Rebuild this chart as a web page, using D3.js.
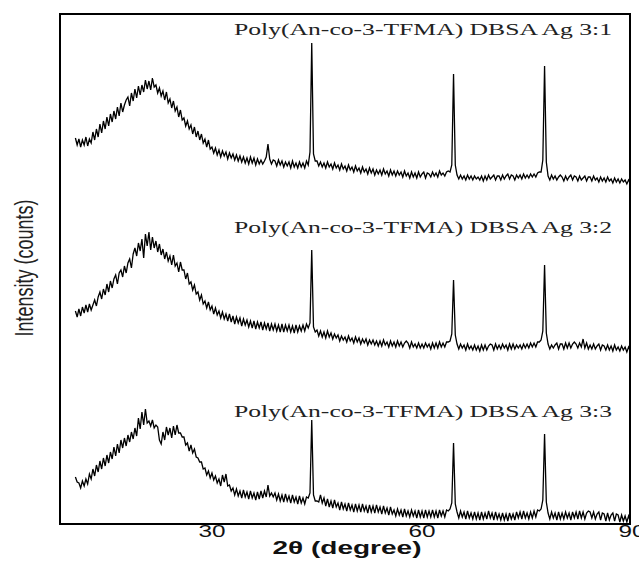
<!DOCTYPE html>
<html>
<head>
<meta charset="utf-8">
<script src="https://cdn.jsdelivr.net/npm/d3@7"></script>
<style>
  body { margin: 0; background: #fff; }
  svg { display: block; }
</style>
</head>
<body>
<div id="graph"></div>
<script>
// sampling grid of the diffractograms (2theta, degrees)
const startAngle = 10.5;
const stepAngle = 0.25;

// intensities, one row per degree (x.00, x.25, x.50, x.75)
const ag31 = [
  46, 39,
  45, 37, 44, 39,  47, 38, 45, 41,  52, 44, 55, 47,  60, 51, 63, 55,
  67, 58, 70, 62,  73, 65, 77, 68,  81, 72, 79, 84,  87, 78, 91, 83,
  95, 86, 98, 89,  99, 92, 104, 95, 103, 94, 106, 97, 99, 91, 96, 88,
  93, 84, 92, 81,  85, 76, 83, 73,  77, 67, 74, 64,  66, 58, 63, 55,
  59, 50, 57, 47,  53, 44, 50, 41,  45, 37, 44, 35,  37, 31, 36, 29,
  34, 27, 33, 28,  32, 25, 31, 26,  30, 24, 29, 23,  28, 22, 27, 21,
  26, 20, 27, 21,  26, 19, 25, 20,  24, 20, 23, 27,  40, 25, 20, 24,
  23, 18, 24, 19,  23, 17, 22, 18,  22, 16, 23, 17,  21, 16, 22, 17,
  21, 16, 23, 19,  32, 141, 30, 23, 23, 18, 22, 17,  21, 16, 22, 17,
  20, 15, 21, 16,  19, 14, 20, 15,  18, 13, 19, 14,  17, 12, 18, 13,
  16, 11, 17, 12,  15, 10, 16, 11,  15, 9, 14, 10,   14, 9, 15, 10,
  13, 8, 14, 9,    13, 8, 13, 9,    12, 7, 13, 8,    11, 6, 12, 7,
  11, 6, 12, 7,    10, 12, 6, 11,   10, 7, 12, 8,    11, 7, 13, 9,
  11, 8, 12, 13,   12, 19, 110, 19, 9, 5, 9, 5,      8, 4, 9, 5,
  8, 4, 8, 5,      7, 4, 8, 3,      8, 4, 9, 5,      7, 9, 4, 8,
  8, 4, 9, 5,      8, 10, 5, 9,     8, 4, 9, 6,      9, 5, 10, 6,
  9, 6, 10, 7,     10, 7, 11, 12,   12, 24, 118, 22, 8, 4, 9, 5,
  8, 4, 7, 9,      7, 3, 8, 4,      7, 9, 4, 8,      7, 3, 8, 4,
  6, 8, 3, 7,      7, 3, 8, 4,      6, 2, 7, 3,      6, 2, 7, 3,
  5, 1, 6, 2,      5, 1, 5, 2,      4, 0, 4, 1
];

const ag32 = [
  43, 37,
  45, 38, 47, 41,  49, 42, 50, 44,  49, 54, 48, 57,  62, 55, 65, 59,
  70, 62, 73, 66,  75, 79, 70, 81,  84, 77, 88, 81,  91, 95, 86, 100,
  106, 98, 111, 103, 115, 96, 120, 108, 122, 104, 117, 106, 113, 102, 110, 99,
  105, 95, 102, 93, 98, 89, 99, 88, 91, 82, 92, 84,  84, 75, 81, 70,
  72, 64, 69, 60,  62, 54, 59, 50,  53, 46, 52, 44,  48, 40, 46, 39,
  43, 36, 42, 35,  40, 33, 40, 32,  38, 30, 37, 31,  36, 28, 35, 29,
  34, 27, 33, 26,  33, 25, 32, 26,  32, 24, 31, 25,  31, 23, 30, 24,
  30, 23, 29, 22,  30, 22, 29, 23,  29, 22, 28, 21,  29, 22, 28, 23,
  29, 23, 30, 26,  31, 104, 27, 22, 24, 18, 23, 17,  22, 16, 23, 17,
  21, 15, 20, 16,  19, 13, 18, 14,  17, 12, 18, 13,  16, 11, 17, 12,
  16, 10, 15, 11,  15, 9, 14, 10,   14, 9, 13, 8,    13, 8, 14, 9,
  12, 7, 13, 8,    12, 7, 13, 8,    12, 7, 11, 13,   11, 6, 12, 7,
  10, 6, 11, 6,    10, 6, 11, 7,    10, 5, 11, 6,    11, 6, 12, 7,
  11, 7, 12, 12,   13, 20, 74, 19,  10, 5, 10, 6,    9, 4, 10, 5,
  8, 4, 9, 4,      8, 3, 9, 4,      9, 4, 8, 10,     9, 4, 10, 5,
  9, 5, 10, 6,     9, 4, 10, 5,     10, 5, 9, 6,     9, 5, 10, 6,
  10, 6, 11, 7,    11, 7, 12, 12,   14, 23, 89, 21,  10, 5, 9, 6,
  9, 11, 5, 10,    10, 5, 11, 6,    11, 6, 10, 12,   10, 6, 11, 7,
  15, 6, 11, 5,    9, 5, 10, 5,     8, 10, 4, 9,     8, 4, 9, 4,
  8, 3, 9, 4,      7, 3, 8, 4,      7, 2, 7, 3
];

const ag33 = [
  47, 42,
  41, 36, 43, 38,  45, 40, 50, 45,  55, 48, 59, 52,  63, 55, 66, 58,
  69, 61, 72, 65,  77, 68, 80, 71,  84, 76, 86, 78,  89, 82, 92, 85,
  96, 88, 106, 95, 112, 99, 115, 101, 103, 98, 104, 96, 99, 97, 84, 80,
  92, 84, 97, 89,  96, 86, 98, 89,  99, 91, 91, 87,  87, 79, 81, 73,
  79, 71, 75, 67,  66, 62, 62, 55,  56, 49, 53, 46,  51, 44, 48, 41,
  45, 38, 49, 42,  50, 38, 39, 33,  36, 29, 35, 28,  33, 26, 34, 27,
  32, 25, 33, 26,  31, 24, 32, 25,  33, 26, 33, 27,  39, 28, 31, 27,
  31, 24, 30, 23,  29, 22, 30, 23,  28, 21, 29, 22,  27, 20, 28, 21,
  26, 20, 27, 26,  31, 104, 29, 23, 23, 22, 29, 21,  26, 18, 25, 17,
  23, 16, 24, 17,  21, 14, 22, 15,  20, 13, 21, 14,  19, 12, 20, 13,
  19, 12, 20, 13,  18, 11, 19, 12,  18, 11, 19, 12,  17, 10, 18, 11,
  16, 9, 17, 10,   14, 8, 15, 9,    14, 7, 15, 8,    13, 7, 14, 8,
  13, 6, 14, 7,    13, 6, 14, 7,    13, 7, 14, 7,    13, 6, 14, 8,
  13, 7, 14, 13,   15, 21, 81, 20,  12, 6, 13, 7,    12, 5, 13, 6,
  11, 5, 12, 5,    11, 4, 12, 5,    11, 5, 13, 6,    11, 4, 12, 5,
  10, 4, 11, 4,    10, 3, 11, 5,    10, 4, 12, 6,    12, 5, 13, 6,
  11, 5, 12, 6,    13, 7, 14, 13,   15, 24, 90, 22,  11, 5, 12, 6,
  11, 4, 12, 5,    11, 5, 12, 6,    11, 4, 12, 6,    12, 5, 13, 6,
  12, 5, 11, 13,   12, 6, 12, 5,    10, 12, 4, 11,   10, 3, 11, 4,
  9, 11, 3, 10,    9, 2, 9, 3,      8, 2, 8, 3
];

const seriesLabels = [
  "Poly(An-co-3-TFMA) DBSA Ag 3:1",
  "Poly(An-co-3-TFMA) DBSA Ag 3:2",
  "Poly(An-co-3-TFMA) DBSA Ag 3:3"
];
const seriesValues = [ag31, ag32, ag33];
const seriesOffsets = [340, 170, 0];   // vertical stacking of the patterns
const xTicks = [30, 60, 90];

const width = 639;
const height = 561;
const margin = { top: 14, right: 9, bottom: 37, left: 60 };

const svg = d3.select("#graph").append("svg")
    .attr("width", width)
    .attr("height", height);

const x = d3.scaleLinear()
    .domain([8.3, 89.7])
    .range([margin.left, width - margin.right]);

const y = d3.scaleLinear()
    .domain([0, 510])
    .range([height - margin.bottom, margin.top]);

const line = d3.line()
    .x(d => x(d.angle))
    .y(d => y(d.value));

// traces
seriesValues.forEach((vals, i) => {
    const pts = vals.map((v, k) => ({ angle: startAngle + k * stepAngle, value: v + seriesOffsets[i] }));
    svg.append("path")
        .datum(pts)
        .attr("d", line)
        .attr("fill", "none")
        .attr("stroke", "#000")
        .attr("stroke-width", 1.3);
});

// frame
svg.append("rect")
    .attr("x", margin.left)
    .attr("y", margin.top)
    .attr("width", width - margin.left - margin.right)
    .attr("height", height - margin.top - margin.bottom)
    .attr("fill", "none")
    .attr("stroke", "#000")
    .attr("stroke-width", 2);

// labels of the patterns (picture is stretched horizontally, hence textLength)
const labelY = [35, 233, 417];
svg.selectAll(".lab")
    .data(seriesLabels)
    .enter()
    .append("text")
    .attr("class", "lab")
    .attr("x", 234)
    .attr("y", (d, i) => labelY[i])
    .attr("font-family", "'Liberation Serif', 'Times New Roman', serif")
    .attr("font-size", "17px")
    .attr("fill", "#222")
    .attr("textLength", 378)
    .attr("lengthAdjust", "spacingAndGlyphs")
    .text(d => d);

// x tick labels
svg.selectAll(".tick")
    .data(xTicks)
    .enter()
    .append("text")
    .attr("x", d => x(d))
    .attr("y", 537)
    .attr("text-anchor", "middle")
    .attr("font-family", "'Liberation Sans', Arial, sans-serif")
    .attr("font-size", "16px")
    .attr("fill", "#111")
    .attr("textLength", 27)
    .attr("lengthAdjust", "spacingAndGlyphs")
    .text(d => d);

// axis titles
svg.append("text")
    .attr("x", 347)
    .attr("y", 554)
    .attr("text-anchor", "middle")
    .attr("font-family", "'Liberation Sans', Arial, sans-serif")
    .attr("font-weight", "bold")
    .attr("font-size", "18px")
    .attr("fill", "#111")
    .attr("textLength", 149)
    .attr("lengthAdjust", "spacingAndGlyphs")
    .text("2θ (degree)");

svg.append("text")
    .attr("transform", "translate(33,268) scale(1.45,1) rotate(-90)")
    .attr("text-anchor", "middle")
    .attr("font-family", "'Liberation Sans', Arial, sans-serif")
    .attr("font-size", "18px")
    .attr("fill", "#222")
    .attr("textLength", 137)
    .attr("lengthAdjust", "spacingAndGlyphs")
    .text("Intensity (counts)");
</script>
</body>
</html>
